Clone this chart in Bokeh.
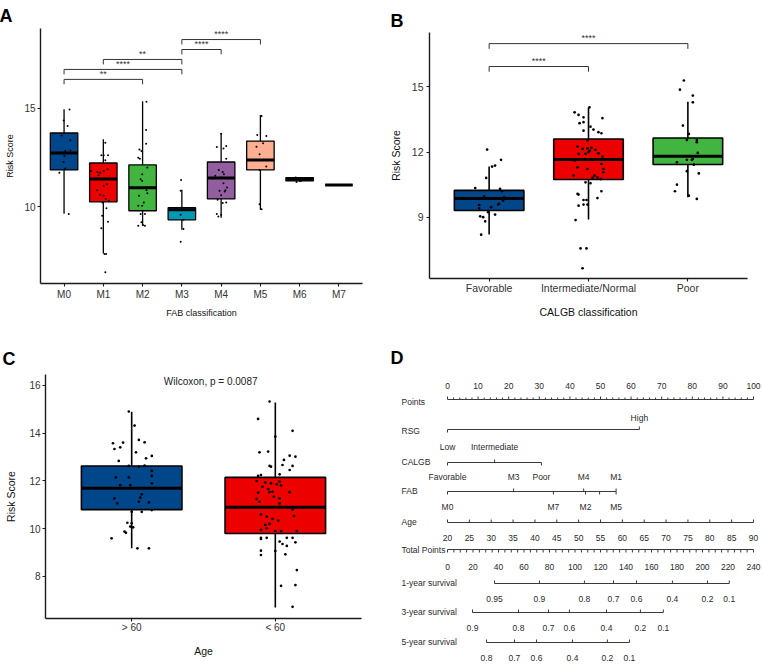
from bokeh.plotting import figure
from bokeh.models import FactorRange, Range1d, FixedTicker, Title
from bokeh.layouts import column, row
from bokeh.embed import file_html
from bokeh.resources import INLINE
from bokeh.core.properties import value

FONT = "Liberation Sans"
LANCET = ["#00468B", "#ED0000", "#42B540", "#0099B4", "#925E9F", "#FDAF91", "#AD002A", "#ADB6B6"]

# ---------------- Panel A: risk score by FAB classification ----------------
fab_cats = ["M0", "M1", "M2", "M3", "M4", "M5", "M6", "M7"]
fab_q1 = [11.87, 10.25, 9.80, 9.34, 10.40, 11.87, 11.31, 11.10]
fab_med = [12.73, 11.41, 10.96, 9.85, 11.46, 12.37, 11.40, 11.10]
fab_q3 = [13.74, 12.22, 12.12, 9.95, 12.27, 13.33, 11.48, 11.10]
fab_lo = [9.65, 7.63, 9.04, 8.84, 9.45, 9.85, 11.26, 11.10]
fab_hi = [14.95, 13.43, 15.35, 10.86, 13.69, 14.65, 11.48, 11.10]

m0_score = [14.93, 14.38, 14.09, 13.62, 13.37, 12.83, 12.86, 12.58, 12.27, 11.94, 11.73, 9.63]
m0_jit = [0.14, -0.01, 0.09, -0.06, 0.16, 0.03, 0.16, 0.01, -0.01, 0.03, -0.12, 0.12]
m1_score = [13.25, 12.61, 12.61, 12.61, 12.36, 11.82, 11.77, 11.73, 11.82, 11.90, 11.60, 11.36, 11.14,
            11.06, 10.84, 10.61, 10.56, 10.39, 10.30, 10.22, 9.92, 9.55, 9.24, 8.91, 7.61, 7.61, 6.68]
m1_jit = [0.05, -0.05, 0.01, 0.12, 0.05, -0.31, -0.15, -0.08, 0.01, 0.11, -0.12, -0.03, 0.09,
          0.01, -0.16, -0.08, 0.01, 0.06, 0.14, -0.02, 0.08, -0.03, 0.12, -0.05, 0.03, 0.07, 0.05]
m2_score = [15.32, 13.89, 13.20, 12.91, 12.83, 12.49, 12.44, 11.99, 11.65, 11.40, 11.31, 10.84,
            10.69, 10.56, 10.22, 10.05, 10.05, 9.63, 9.63, 9.21, 9.04, 9.07, 9.04]
m2_jit = [0.10, 0.09, 0.09, -0.08, -0.03, -0.11, -0.07, 0.12, -0.01, -0.05, -0.01, 0.10,
          0.12, -0.09, 0.03, -0.01, -0.11, 0.06, -0.05, -0.03, -0.11, 0.01, 0.06]
m3_score = [11.36, 10.81, 9.88, 9.60, 9.34, 8.87, 8.23]
m3_jit = [-0.02, -0.03, -0.11, -0.03, 0.04, 0.04, -0.03]
m4_score = [13.70, 13.08, 13.03, 12.95, 12.44, 11.87, 11.77, 11.65, 11.57, 11.48, 11.19, 10.98,
            10.81, 10.84, 10.77, 10.59, 10.36, 10.22, 10.19, 9.63, 9.60, 9.51]
m4_jit = [0.0, 0.13, -0.11, 0.06, 0.13, -0.06, 0.04, 0.07, -0.15, 0.0, 0.06, 0.15,
          -0.04, 0.11, 0.09, 0.0, -0.09, 0.13, 0.04, -0.11, 0.0, -0.07]
m5_score = [14.60, 13.64, 13.59, 13.22, 13.05, 12.66, 12.04, 11.87, 10.13, 9.88]
m5_jit = [0.03, -0.08, 0.15, 0.07, -0.10, -0.02, 0.15, -0.02, -0.02, 0.03]
m6_score = [11.48, 11.40, 11.31, 11.26]
m6_jit = [-0.10, -0.03, 0.03, -0.08]
m7_score = [11.10]
m7_jit = [0.0]

fab_scores = [m0_score, m1_score, m2_score, m3_score, m4_score, m5_score, m6_score, m7_score]
fab_jits = [m0_jit, m1_jit, m2_jit, m3_jit, m4_jit, m5_jit, m6_jit, m7_jit]
fab_pairs = [("M0", "M2", "**"), ("M0", "M3", "****"), ("M1", "M3", "**"),
             ("M3", "M4", "****"), ("M3", "M5", "****")]

# ---------------- Panel B: risk score by CALGB classification ----------------
calgb_cats = ["Favorable", "Intermediate/Normal", "Poor"]
calgb_q1 = [9.32, 10.74, 11.43]
calgb_med = [9.87, 11.66, 11.80]
calgb_q3 = [10.24, 12.60, 12.64]
calgb_lo = [8.22, 8.90, 9.92]
calgb_hi = [11.34, 14.04, 14.30]

fav_score = [12.11, 11.64, 11.38, 11.33, 10.81, 10.35, 10.31, 10.20, 9.92, 9.77, 9.95, 9.57, 9.59,
             9.62, 9.42, 9.47, 9.24, 9.13, 9.05, 9.01, 8.82, 8.21]
fav_jit = [-0.02, 0.12, 0.06, 0.03, -0.03, -0.14, 0.11, 0.13, 0.15, 0.14, -0.05, -0.10, 0.09,
           0.10, -0.10, 0.02, -0.01, 0.06, -0.09, -0.06, -0.04, -0.08]
int_score = [14.05, 13.82, 13.70, 13.59, 13.55, 13.32, 13.37, 13.16, 12.98, 13.03, 12.91, 12.86,
             12.52, 12.25, 12.14, 12.17, 12.19, 12.10, 12.06, 11.91, 11.91, 11.99, 11.94, 11.79,
             11.61, 11.45, 11.30, 11.22, 11.22, 11.07, 10.92, 10.92, 10.84, 10.81, 10.76, 10.61,
             10.57, 10.08, 10.05, 10.20, 9.89, 9.80, 9.80, 9.54, 9.59, 9.59, 8.88, 7.58, 7.58, 6.67]
int_jit = [0.01, -0.14, -0.10, -0.05, 0.14, -0.09, -0.05, 0.02, -0.05, 0.05, 0.10, 0.13,
           -0.01, -0.11, -0.06, -0.01, 0.03, 0.07, 0.01, -0.10, -0.03, 0.0, 0.10, 0.14,
           -0.14, 0.13, -0.11, -0.01, 0.15, 0.15, -0.15, 0.06, 0.09, 0.04, 0.12, -0.03,
           0.02, -0.11, -0.10, 0.13, 0.09, -0.05, -0.02, -0.10, -0.05, -0.01, -0.13, -0.08, -0.02, -0.06]
poor_score = [15.28, 14.86, 14.59, 14.28, 13.21, 12.83, 12.55, 12.55, 12.45, 11.96, 11.68, 11.64,
              11.64, 11.53, 11.42, 11.12, 11.02, 10.50, 10.20, 10.00, 9.85]
poor_jit = [-0.04, -0.08, 0.05, 0.05, -0.05, 0.01, -0.01, 0.09, 0.09, 0.10, 0.05, -0.01,
            0.04, -0.11, 0.06, -0.01, 0.11, -0.11, -0.13, 0.01, 0.09]

calgb_scores = [fav_score, int_score, poor_score]
calgb_jits = [fav_jit, int_jit, poor_jit]
calgb_pairs = [("Favorable", "Intermediate/Normal", "****"), ("Favorable", "Poor", "****")]

# ---------------- Panel C: risk score by age group ----------------
age_cats = ["> 60", "< 60"]
age_q1 = [10.80, 9.80]
age_med = [11.70, 10.90]
age_q3 = [12.63, 12.15]
age_lo = [9.18, 6.70]
age_hi = [14.90, 15.29]

old_score = [14.91, 14.32, 13.58, 13.61, 13.34, 13.41, 13.72, 13.62, 13.20, 12.84, 12.95, 13.05,
             12.63, 12.60, 12.64, 12.42, 12.15, 12.15, 12.21, 11.83, 11.83, 11.90, 11.27, 11.06,
             11.44, 11.30, 11.13, 11.10, 10.71, 10.78, 10.71, 10.25, 10.23, 10.06, 10.09, 9.88,
             9.83, 9.60, 9.18, 9.18]
old_jit = [-0.02, 0.02, -0.13, -0.06, -0.12, -0.08, 0.05, 0.09, 0.03, -0.09, 0.10, 0.14,
           -0.02, 0.05, 0.09, 0.14, -0.11, -0.02, 0.14, -0.08, -0.01, 0.14, -0.12, -0.10,
           0.07, 0.06, 0.05, 0.12, 0.07, 0.14, 0.0, -0.03, 0.0, 0.01, -0.01, -0.05,
           -0.04, -0.14, 0.04, 0.12]
young_score = [15.33, 14.60, 14.10, 13.86, 13.20, 13.23, 13.02, 13.06, 12.88, 12.67, 12.63, 12.63,
               12.60, 12.46, 12.25, 12.28, 12.21, 12.00, 11.94, 11.90, 11.86, 11.97, 11.81, 11.76,
               11.66, 11.51, 11.53, 11.55, 11.53, 11.25, 11.34, 11.27, 11.13, 11.06, 10.81, 10.60,
               10.51, 10.41, 10.34, 10.53, 10.20, 10.16, 9.95, 10.02, 9.90, 9.90, 9.90, 9.62,
               9.62, 9.57, 9.62, 9.62, 9.46, 9.43, 9.36, 9.28, 9.07, 9.08, 8.90, 8.93,
               8.27, 7.61, 7.64, 6.73]
young_jit = [-0.04, -0.12, 0.12, 0.0, -0.11, -0.05, 0.14, 0.10, 0.06, 0.05, 0.12, -0.04,
             -0.03, 0.10, -0.10, 0.03, -0.12, -0.13, -0.07, -0.03, 0.01, 0.03, 0.04, -0.09,
             -0.05, -0.12, -0.04, -0.02, 0.10, -0.13, -0.01, 0.03, -0.11, 0.03, 0.12, -0.10,
             -0.06, -0.02, 0.02, 0.13, -0.04, -0.07, -0.10, -0.06, 0.0, 0.04, 0.15, -0.10,
             -0.06, -0.10, 0.08, 0.12, 0.03, 0.14, 0.05, 0.08, 0.0, -0.10, -0.10, 0.07,
             0.15, 0.04, 0.14, 0.12]

age_scores = [old_score, young_score]
age_jits = [old_jit, young_jit]
wilcoxon_text = "Wilcoxon, p = 0.0087"

# ---------------- Panel D: nomogram ----------------
points_ticks = list(range(0, 101, 10))
rsg_levels = ["Low", "High"]
rsg_points = [0.0, 62.7]
calgb_levels = ["Favorable", "Intermediate", "Poor"]
calgb_points = [0.0, 15.4, 30.7]
fab_levels = ["M0", "M3", "M7", "M4", "M2", "M6", "M1", "M5"]
fab_points = [0.0, 21.6, 34.6, 44.5, 45.1, 49.7, 55.1, 55.1]
age_ticks = list(range(20, 91, 5))
age_min, age_max = 20, 90
total_ticks = list(range(0, 241, 20))
total_max = 240
surv1_probs = [0.95, 0.9, 0.8, 0.7, 0.6, 0.4, 0.2, 0.1]
surv1_total = [36.9, 72.1, 107.4, 130.2, 148.2, 176.4, 203.9, 221.0]
surv3_probs = [0.9, 0.8, 0.7, 0.6, 0.4, 0.2, 0.1]
surv3_total = [19.6, 55.7, 79.2, 95.6, 124.7, 151.3, 169.3]
surv5_probs = [0.8, 0.7, 0.6, 0.4, 0.2, 0.1]
surv5_total = [30.6, 52.5, 69.8, 98.0, 125.4, 142.7]

AXIS_COLOR = "#1a1a1a"
TICK_TEXT = "#333333"


def style_axes(p, tick_size, title_size, tick_standoff, title_standoff_x, title_standoff_y):
    for ax in (p.xaxis[0], p.yaxis[0]):
        ax.axis_line_color = AXIS_COLOR
        ax.axis_line_width = 1.4
        ax.major_tick_line_color = AXIS_COLOR
        ax.major_tick_line_width = 1.1
        ax.major_tick_out = 3
        ax.major_tick_in = 0
        ax.minor_tick_line_color = None
        ax.major_label_text_font = FONT
        ax.major_label_text_font_size = tick_size
        ax.major_label_text_color = TICK_TEXT
        ax.axis_label_text_font = FONT
        ax.axis_label_text_font_size = title_size
        ax.axis_label_text_font_style = "normal"
        ax.axis_label_text_color = "#111111"
    p.xaxis[0].major_label_standoff = tick_standoff[0]
    p.yaxis[0].major_label_standoff = tick_standoff[1]
    p.xaxis[0].axis_label_standoff = title_standoff_x
    p.yaxis[0].axis_label_standoff = title_standoff_y
    p.xgrid.grid_line_color = None
    p.ygrid.grid_line_color = None
    p.outline_line_color = None


def box_panel(cats, q1, med, q3, lo, hi, colors, scores, jits, width, height, borders,
              yr, yticks, xlabel, box_lw, med_lw, dot_size, tick_size, title_size,
              tick_standoff, title_standoff_x, title_standoff_y):
    left, right, top, bottom = borders
    # 0.1 of a category of empty space beyond the outer boxes on each side
    p = figure(width=width, height=height, output_backend="svg", toolbar_location=None, title=None,
               x_range=FactorRange(factors=cats, range_padding=0.1, range_padding_units="absolute"),
               y_range=Range1d(*yr), min_border_left=left, min_border_right=right,
               min_border_top=top, min_border_bottom=bottom)
    p.frame_align = False
    p.background_fill_color = "white"
    p.border_fill_color = "white"
    centers = [i + 0.5 for i in range(len(cats))]
    half = 0.35
    # whiskers
    p.segment(x0=centers, x1=centers, y0=q3, y1=hi, line_color="black", line_width=box_lw)
    p.segment(x0=centers, x1=centers, y0=q1, y1=lo, line_color="black", line_width=box_lw)
    # boxes
    p.vbar(x=cats, width=2 * half, top=q3, bottom=q1, fill_color=colors,
           line_color="black", line_width=box_lw)
    # medians
    p.segment(x0=[c - half for c in centers], x1=[c + half for c in centers], y0=med, y1=med,
              line_color="black", line_width=med_lw, line_cap="butt")
    # jittered observations
    xs, ys = [], []
    for c, sc, jt in zip(centers, scores, jits):
        xs += [c + j for j in jt]
        ys += sc
    p.scatter(x=xs, y=ys, size=dot_size, fill_color="black", line_color=None)
    p.xaxis.axis_label = xlabel
    p.yaxis.axis_label = "Risk Score"
    p.yaxis.ticker = FixedTicker(ticks=yticks)
    style_axes(p, tick_size, title_size, tick_standoff, title_standoff_x, title_standoff_y)
    return p, centers


def brackets(p, cats, centers, pairs, base, step, drop, text_size):
    for k, (a, b, lab) in enumerate(pairs):
        xa = centers[cats.index(a)]
        xb = centers[cats.index(b)]
        y = base + step * k
        p.line(x=[xa, xa, xb, xb], y=[y - drop, y, y, y - drop], line_color="#333333", line_width=1)
        p.text(x=[(xa + xb) / 2], y=[y + 0.02], text=[lab], text_align="center",
               text_baseline="bottom", text_font=value(FONT), text_font_size=text_size,
               text_color="#333333")


def panel_letter(p, letter, offset, standoff):
    p.add_layout(Title(text=letter, align="left", offset=offset, standoff=standoff,
                       text_font=FONT, text_font_size="18px", text_font_style="bold",
                       text_color="black"), "above")


# Panel A
pA, cA = box_panel(fab_cats, fab_q1, fab_med, fab_q3, fab_lo, fab_hi, LANCET, fab_scores, fab_jits,
                   380, 330, (40, 18, 27, 47), (6.11, 19.04), [10, 15], "FAB classification",
                   1.3, 3.0, 2.0, "10px", "9px", (2, 2), 5, 6)
brackets(pA, fab_cats, cA, fab_pairs, 16.46, 0.505, 0.25, "9px")
panel_letter(pA, "A", -41, 6)

# Panel B
pB, cB = box_panel(calgb_cats, calgb_q1, calgb_med, calgb_q3, calgb_lo, calgb_hi, LANCET[:3],
                   calgb_scores, calgb_jits, 383, 330, (49, 16, 32, 52), (6.2, 17.48), [9, 12, 15],
                   "CALGB classification", 1.6, 3.0, 2.7, "10.5px", "10.5px", (0, 3), 9, 7)
brackets(pB, calgb_cats, cB, calgb_pairs, 15.92, 1.05, 0.24, "9px")
panel_letter(pB, "B", -39, 4)

# Panel C
pC, cC = box_panel(age_cats, age_q1, age_med, age_q3, age_lo, age_hi, LANCET[:2],
                   age_scores, age_jits, 380, 334, (45, 19, 44, 46), (6.24, 16.46), [8, 10, 12, 14, 16],
                   "Age", 1.6, 3.0, 2.7, "10px", "10.5px", (0, 2), 9, 9)
pC.text(x=[1.05], y=[16.15], text=[wilcoxon_text], text_align="center", text_baseline="middle",
        text_font=value(FONT), text_font_size="10px", text_color="#222222")
panel_letter(pC, "C", -43, 11)

# Panel D: nomogram drawn on a points scale (0-100) horizontally, pixel rows vertically
PX0 = 67.0
PX_PER = 3.06
pD = figure(width=383, height=334, output_backend="svg", toolbar_location=None, title=None,
            x_range=Range1d(-PX0 / PX_PER, (383 - PX0) / PX_PER), y_range=Range1d(334, 0),
            min_border=0)
pD.frame_align = False
pD.axis.visible = False
pD.xgrid.grid_line_color = None
pD.ygrid.grid_line_color = None
pD.outline_line_color = None
pD.background_fill_color = "white"

NOMO_LINE = "#3a3a3a"
NOMO_TEXT = "#2a2a2a"
NOMO_FS = "8.5px"
LABEL_X = (21 - PX0) / PX_PER
TICK = 3.0


def nomo_text(xs, ys, texts, align="center", size=NOMO_FS):
    pD.text(x=xs, y=ys, text=texts, text_align=align, text_baseline="middle",
            text_font=value(FONT), text_font_size=size, text_color=NOMO_TEXT)


def nomo_scale(name, row_y, label_y, positions, labels, tick_dirs, label_dys):
    pD.line(x=[min(positions), max(positions)], y=[row_y, row_y], line_color=NOMO_LINE, line_width=1)
    pD.segment(x0=positions, x1=positions, y0=[row_y] * len(positions),
               y1=[row_y + d * TICK for d in tick_dirs], line_color=NOMO_LINE, line_width=1)
    shown = [(x, t, row_y + dy) for x, t, dy in zip(positions, labels, label_dys) if t]
    nomo_text([s[0] for s in shown], [s[2] for s in shown], [s[1] for s in shown])
    nomo_text([LABEL_X], [label_y], [name], align="left")


pD.text(x=[(10 - PX0) / PX_PER], y=[27], text=["D"], text_align="left", text_baseline="middle",
        text_font=value(FONT), text_font_size="18px", text_font_style="bold", text_color="black")

# Points scale with minor ticks
minor = [v for v in range(0, 101, 2)]
pD.line(x=[0, 100], y=[69, 69], line_color=NOMO_LINE, line_width=1)
pD.segment(x0=minor, x1=minor, y0=[69] * len(minor),
           y1=[69 - (TICK if v % 10 == 0 else 2) for v in minor], line_color=NOMO_LINE, line_width=1)
nomo_text(points_ticks, [55] * len(points_ticks), [str(v) for v in points_ticks])
nomo_text([LABEL_X], [71], ["Points"], align="left")

# RSG: low below, high above
nomo_scale("RSG", 99, 100, rsg_points, rsg_levels, [1, -1], [17, -12])
# CALGB
nomo_scale("CALGB", 132, 131, calgb_points, calgb_levels, [1, -1, 1], [14, -16, 14])
# FAB
fab_above = ["M3", "M4", "M1"]
fab_hidden = ["M6"]
fab_dirs = [-1 if lv in fab_above else 1 for lv in fab_levels]
fab_dys = [-15 if lv in fab_above else 15 for lv in fab_levels]
fab_labels = ["" if lv in fab_hidden else lv for lv in fab_levels]
nomo_scale("FAB", 161, 160, fab_points, fab_labels, fab_dirs, fab_dys)
# Age
age_pos = [(a - age_min) / (age_max - age_min) * 100 for a in age_ticks]
nomo_scale("Age", 192, 191, age_pos, [str(a) for a in age_ticks], [-1] * len(age_ticks),
           [15] * len(age_ticks))

# Total points
tp_minor = list(range(0, total_max + 1, 5))
tp_minor_pos = [v / total_max * 100 for v in tp_minor]
pD.line(x=[0, 100], y=[219, 219], line_color=NOMO_LINE, line_width=1)
pD.segment(x0=tp_minor_pos, x1=tp_minor_pos, y0=[219] * len(tp_minor), y1=[222] * len(tp_minor),
           line_color=NOMO_LINE, line_width=1)
nomo_text([v / total_max * 100 for v in total_ticks], [236] * len(total_ticks),
          [str(v) for v in total_ticks])
nomo_text([LABEL_X], [219], ["Total Points"], align="left")

# Survival scales
for name, row_y, probs, totals in [("1-year survival", 253, surv1_probs, surv1_total),
                                   ("3-year survival", 282, surv3_probs, surv3_total),
                                   ("5-year survival", 312, surv5_probs, surv5_total)]:
    pos = [t / total_max * 100 for t in totals]
    nomo_scale(name, row_y, row_y - 1, pos, [str(v) for v in probs], [-1] * len(pos), [15] * len(pos))

layout = column(row(pA, pB), row(pC, pD))
open("out.html", "w").write(file_html(layout, INLINE))
